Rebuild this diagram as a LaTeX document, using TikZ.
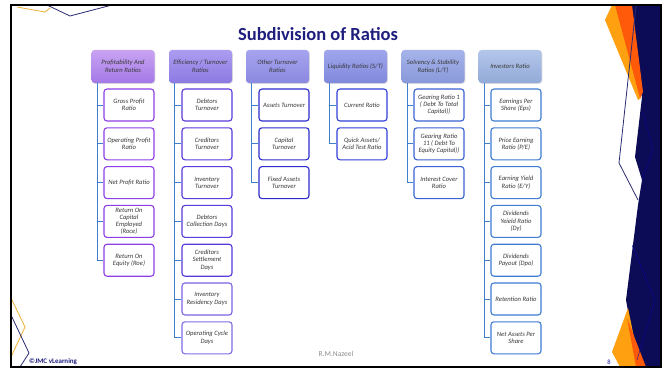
\documentclass[tikz,border=0pt]{standalone}
\usepackage{fontspec}
\setmainfont{Carlito}
\usetikzlibrary{shadows}
\definecolor{titlec}{HTML}{1E1E7E}
\definecolor{navyd}{HTML}{0C0C56}
\definecolor{orgd}{HTML}{FF5A0A}
\definecolor{orgl}{HTML}{FFA010}
\definecolor{yell}{HTML}{EDB038}
\definecolor{linen}{HTML}{2A2A72}
\definecolor{connc}{HTML}{3F7FCC}
\definecolor{bA}{HTML}{8E3EE6}
\definecolor{bB}{HTML}{5A3ADC}
\definecolor{bC}{HTML}{2C2CCC}
\definecolor{bD}{HTML}{3040D8}
\definecolor{bE}{HTML}{3A62D2}
\definecolor{bF}{HTML}{3E7CD2}
\definecolor{txt}{HTML}{383838}
\definecolor{tA}{HTML}{C8A4F2}\definecolor{uA}{HTML}{A478E6}
\definecolor{tB}{HTML}{AC9CF0}\definecolor{uB}{HTML}{8C7AE2}
\definecolor{tC}{HTML}{A6A4EE}\definecolor{uC}{HTML}{8A88E0}
\definecolor{tD}{HTML}{A0A6EC}\definecolor{uD}{HTML}{8088DC}
\definecolor{tE}{HTML}{A6B4EA}\definecolor{uE}{HTML}{8898DA}
\definecolor{tF}{HTML}{B4C6EA}\definecolor{uF}{HTML}{92AAD8}
\begin{document}
\begin{tikzpicture}[x=1pt,y=-1pt,
  hdr/.style={rounded corners=3pt, minimum width=63pt, minimum height=33pt,
    align=center, inner sep=0.5pt,
    font=\fontsize{6.6}{7.6}\selectfont\itshape, text=txt,
    drop shadow={opacity=0.25, shadow xshift=0.8pt, shadow yshift=-0.8pt}},
  leaf/.style={draw=#1, line width=1.1pt, rounded corners=3pt, fill=white,
    minimum width=50pt, minimum height=32pt, align=center,
    inner sep=0.5pt, font=\fontsize{6.6}{7.2}\selectfont\itshape, text=txt},
  conn/.style={draw=connc, line width=1pt}]
\useasboundingbox (0,0) rectangle (668,369);
\fill[white] (0,0) rectangle (668,369);
% right decoration
\fill[navyd] (612,5) -- (661,5) -- (661,367) -- (638,367) -- (626,300) -- (638,205) -- (642,180) -- (635,157) -- (642,97) -- cycle;
\fill[orgl] (605,20) -- (612,5) -- (618,5) -- (641,98) -- (638,100) -- cycle;
\fill[orgd] (615,5) -- (632,5) -- (643,92) -- (640,98) -- cycle;
\fill[orgl] (612,352) -- (628,308) -- (640,367) -- (620,367) -- cycle;
\fill[orgd] (627,318) -- (646,367) -- (636,367) -- cycle;
\draw[linen, line width=0.8pt] (636,6) -- (619,163) -- (638,200);
\draw[blue!45!navyd, line width=0.4pt] (643,112) -- (653,150) -- (642,180);
\draw[blue!45!navyd, line width=0.4pt] (632,245) -- (655,300) -- (637,360);
% left decoration
\draw[yell, line width=0.8pt] (17,7) -- (45,12) -- (50,8);
\draw[linen, line width=0.8pt] (47,5) -- (70,16) -- (112,5);
\draw[yell, line width=0.8pt] (11,298) -- (25,327) -- (11,357);
\draw[linen, line width=0.8pt] (11,315) -- (29,353) -- (20,367);
% frame
\draw[black, line width=1.8pt] (11,5) rectangle (661,367);
% title
\node[font=\fontsize{18.5}{21}\selectfont\bfseries, text=titlec] (title) at (318,34) {Subdivision of Ratios};
% headers
\node[hdr, top color=tA, bottom color=uA] (h1) at (123,66.5) {Profitability And\\Return Ratios};
\node[hdr, top color=tB, bottom color=uB] (h2) at (200.5,66.5) {Efficiency / Turnover\\Ratios};
\node[hdr, top color=tC, bottom color=uC] (h3) at (277.5,66.5) {Other Turnover\\Ratios};
\node[hdr, top color=tD, bottom color=uD] (h4) at (355.5,66.5) {Liquidity Ratios (S/T)};
\node[hdr, top color=tE, bottom color=uE] (h5) at (433,66.5) {Solvency \& Stability\\Ratios (L/T)};
\node[hdr, top color=tF, bottom color=uF] (h6) at (510,66.5) {Investors Ratio};
% column 1
\node[leaf=bA] (a1) at (129,105) {Gross Profit\\Ratio};
\node[leaf=bA] (a2) at (129,143.8) {Operating Profit\\Ratio};
\node[leaf=bA] (a3) at (129,182.6) {Net Profit Ratio};
\node[leaf=bA] (a4) at (129,221.4) {Return On\\Capital\\Employed\\(Roce)};
\node[leaf=bA] (a5) at (129,260.2) {Return On\\Equity (Roe)};
% column 2
\node[leaf=bB] (b1) at (207,105) {Debtors\\Turnover};
\node[leaf=bB] (b2) at (207,143.8) {Creditors\\Turnover};
\node[leaf=bB] (b3) at (207,182.6) {Inventory\\Turnover};
\node[leaf=bB] (b4) at (207,221.4) {Debtors\\Collection Days};
\node[leaf=bB] (b5) at (207,260.2) {Creditors\\Settlement\\Days};
\node[leaf=bB!80!white] (b6) at (207,299) {Inventory\\Residency Days};
\node[leaf=bB!75!white] (b7) at (207,337.8) {Operating Cycle\\Days};
% column 3
\node[leaf=bC] (c1) at (284,105) {Assets Turnover};
\node[leaf=bC] (c2) at (284,143.8) {Capital\\Turnover};
\node[leaf=bC] (c3) at (284,182.6) {Fixed Assets\\Turnover};
% column 4
\node[leaf=bD] (d1) at (362,105) {Current Ratio};
\node[leaf=bD] (d2) at (362,143.8) {Quick Assets/\\Acid Test Ratio};
% column 5
\node[leaf=bE] (e1) at (439,105) {Gearing Ratio 1\\( Debt To Total\\Capital))};
\node[leaf=bE] (e2) at (439,143.8) {Gearing Ratio\\11 ( Debt To\\Equity Capital))};
\node[leaf=bE] (e3) at (439,182.6) {Interest Cover\\Ratio};
% column 6
\node[leaf=bF] (f1) at (516,105) {Earnings Per\\Share (Eps)};
\node[leaf=bF] (f2) at (516,143.8) {Price Earning\\Ratio (P/E)};
\node[leaf=bF] (f3) at (516,182.6) {Earning Yield\\Ratio (E/Y)};
\node[leaf=bF] (f4) at (516,221.4) {Dividends\\Yeield Ratio\\(Dy)};
\node[leaf=bF] (f5) at (516,260.2) {Dividends\\Payout (Dpo)};
\node[leaf=bF] (f6) at (516,299) {Retention Ratio};
\node[leaf=bF] (f7) at (516,337.8) {Net Assets Per\\Share};
% connectors
\foreach \n in {a1,a2,a3,a4,a5} \draw[conn] ([xshift=6pt]h1.south west) |- (\n.west);
\foreach \n in {b1,b2,b3,b4,b5,b6,b7} \draw[conn] ([xshift=6pt]h2.south west) |- (\n.west);
\foreach \n in {c1,c2,c3} \draw[conn] ([xshift=6pt]h3.south west) |- (\n.west);
\foreach \n in {d1,d2} \draw[conn] ([xshift=6pt]h4.south west) |- (\n.west);
\foreach \n in {e1,e2,e3} \draw[conn] ([xshift=6pt]h5.south west) |- (\n.west);
\foreach \n in {f1,f2,f3,f4,f5,f6,f7} \draw[conn] ([xshift=6pt]h6.south west) |- (\n.west);
% footer
\node[font=\fontsize{7}{8}\selectfont\bfseries, text=titlec, anchor=west, inner sep=0pt] (brand) at (29,362) {©JMC vLearning};
\node[font=\fontsize{7.5}{8}\selectfont, text=black!45, inner sep=0pt] (author) at (336,354) {R.M.Nazeel};
\node[font=\fontsize{6.5}{7}\selectfont, text=titlec!70!blue, inner sep=0pt] (pg) at (609,362) {8};
\end{tikzpicture}
\end{document}
